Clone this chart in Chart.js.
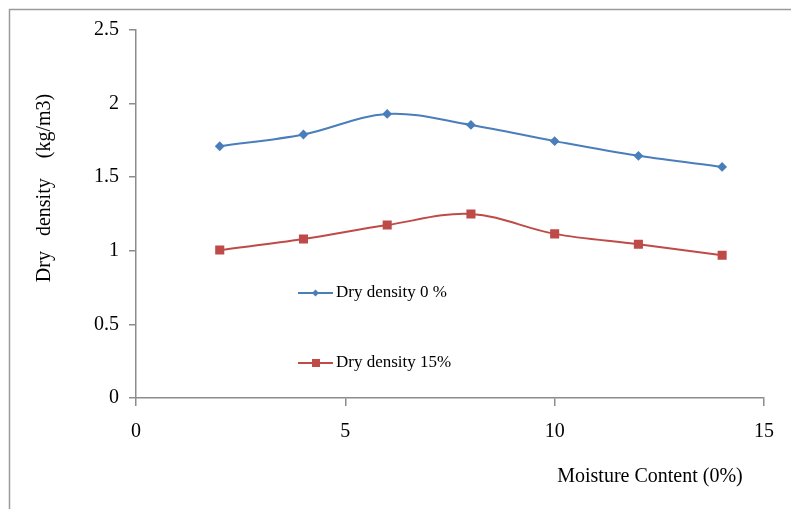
<!DOCTYPE html>
<html lang="en">
<head>
    <meta charset="UTF-8">
    <title>Dry density vs Moisture Content</title>
    <script src="https://cdn.jsdelivr.net/npm/chart.js@4.4.0/dist/chart.umd.min.js"></script>
    <style>
        html, body { margin: 0; padding: 0; background: #fff; }
        #wrap { width: 791px; height: 509px; }
    </style>
</head>
<body>
    <div id="wrap"><canvas id="densityChart" width="791" height="509"></canvas></div>

    <script>
        // data
        const moisture = [2, 4, 6, 8, 10, 12, 14];
        const density0 = [1.71, 1.79, 1.93, 1.855, 1.745, 1.645, 1.57];
        const density15 = [1.005, 1.08, 1.175, 1.25, 1.115, 1.045, 0.97];
        const seriesNames = ['Dry density 0 %', 'Dry density 15%'];
        const xTicks = [0, 5, 10, 15];
        const yTicks = [0, 0.5, 1, 1.5, 2, 2.5];

        const serif = "'Liberation Serif', 'Times New Roman', serif";
        const axisGrey = '#8c8c8c';

        const toPoints = (ys) => moisture.map((x, i) => ({ x: x, y: ys[i] }));

        // frame, axis titles and the legend that sits inside the plot
        const decorations = {
            id: 'decorations',
            beforeDraw(chart) {
                const ctx = chart.ctx;
                ctx.save();
                ctx.strokeStyle = '#9a9a9a';
                ctx.lineWidth = 1.5;
                ctx.strokeRect(9.5, 9.5, 800, 520);
                ctx.restore();
            },
            afterDraw(chart) {
                const ctx = chart.ctx;
                ctx.save();
                ctx.fillStyle = '#000';
                ctx.textBaseline = 'middle';
                ctx.textAlign = 'center';

                // y title
                ctx.save();
                ctx.font = '20px ' + serif;
                ctx.translate(45, 188);
                ctx.rotate(-Math.PI / 2);
                ctx.fillText('Dry   density    (kg/m3)', 0, 0);
                ctx.restore();

                // x title
                ctx.font = '20px ' + serif;
                ctx.fillText('Moisture Content (0%)', 650, 477);

                // legend
                const rows = [293, 363];
                ctx.textAlign = 'left';
                chart.data.datasets.forEach((ds, i) => {
                    const y = rows[i];
                    ctx.strokeStyle = ds.borderColor;
                    ctx.lineWidth = 2;
                    ctx.beginPath();
                    ctx.moveTo(298, y);
                    ctx.lineTo(333, y);
                    ctx.stroke();
                    ctx.fillStyle = ds.backgroundColor;
                    if (ds.pointStyle === 'rect') {
                        ctx.fillRect(312, y - 4, 8, 8);
                    } else {
                        ctx.beginPath();
                        ctx.moveTo(315.5, y - 3.5);
                        ctx.lineTo(319, y);
                        ctx.lineTo(315.5, y + 3.5);
                        ctx.lineTo(312, y);
                        ctx.closePath();
                        ctx.fill();
                    }
                    ctx.fillStyle = '#000';
                    ctx.font = '17px ' + serif;
                    ctx.fillText(ds.label, 336, y);
                });
                ctx.restore();
            }
        };

        new Chart(document.getElementById('densityChart'), {
            type: 'line',
            data: {
                datasets: [
                    {
                        label: seriesNames[0],
                        data: toPoints(density0),
                        borderColor: '#4a7ebb',
                        backgroundColor: '#4a7ebb',
                        borderWidth: 2,
                        pointStyle: 'rectRot',
                        pointRadius: 3.5,
                        tension: 0.35
                    },
                    {
                        label: seriesNames[1],
                        data: toPoints(density15),
                        borderColor: '#be4b48',
                        backgroundColor: '#be4b48',
                        borderWidth: 2,
                        pointStyle: 'rect',
                        pointRadius: 5,
                        tension: 0.35
                    }
                ]
            },
            options: {
                responsive: false,
                animation: false,
                layout: { padding: { left: 0, top: 30, right: 27, bottom: 0 } },
                plugins: {
                    legend: { display: false },
                    tooltip: { enabled: false }
                },
                scales: {
                    x: {
                        type: 'linear',
                        min: 0,
                        max: 15,
                        afterBuildTicks: (scale) => { scale.ticks = xTicks.map(v => ({ value: v })); },
                        afterFit: (scale) => { scale.height = 111; },
                        border: { color: axisGrey, width: 1.5 },
                        grid: { drawOnChartArea: false, color: axisGrey, tickLength: 8, lineWidth: 1.5 },
                        ticks: { color: '#000', font: { family: serif, size: 20 }, padding: 14 }
                    },
                    y: {
                        min: 0,
                        max: 2.5,
                        afterBuildTicks: (scale) => { scale.ticks = yTicks.map(v => ({ value: v })); },
                        afterFit: (scale) => { scale.width = 136; },
                        border: { color: axisGrey, width: 1.5 },
                        grid: { drawOnChartArea: false, color: axisGrey, tickLength: 7, lineWidth: 1.5 },
                        ticks: {
                            color: '#000',
                            font: { family: serif, size: 20 },
                            padding: 10,
                            callback: (v) => String(v)
                        }
                    }
                }
            },
            plugins: [decorations]
        });
    </script>
</body>
</html>
